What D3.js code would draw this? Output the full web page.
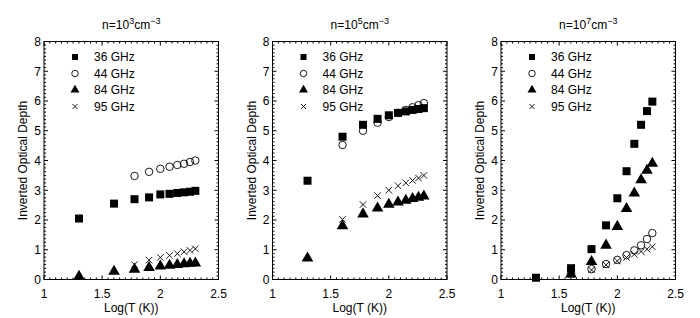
<!DOCTYPE html>
<head>
  <meta charset="utf-8">
  <script src="https://d3js.org/d3.v7.min.js"></script>
  <style>
    body { margin:0; background:#fff; }
    text { font-family: 'Liberation Sans', Arial, sans-serif; fill:#000; }
    .tick-label { font-size: 12px; }
    .axis-label { font-size: 12px; }
    .legend-label { font-size: 12px; }
    .title { font-size: 12px; }
    .frame { fill:none; stroke:#000; stroke-width:1; }
    .minor { stroke:#000; stroke-width:1; }
  </style>
</head>
<body>
<script>
  // log10 of temperature 20..200 K
  var logT = [1.301, 1.602, 1.778, 1.903, 2.0, 2.079, 2.146, 2.204, 2.255, 2.301];
  var freqs = ["36 GHz", "44 GHz", "84 GHz", "95 GHz"];
  var densities = ["3", "5", "7"];   // exponent of n in the panel titles
  var xTicks = [1, 1.5, 2, 2.5];
  var yTicks = [0, 1, 2, 3, 4, 5, 6, 7, 8];

  // n = 1e3 cm^-3
  var n3_36 = [2.05, 2.55, 2.70, 2.76, 2.86, 2.88, 2.91, 2.93, 2.95, 2.98];
  var n3_44 = [null, null, 3.48, 3.62, 3.72, 3.79, 3.85, 3.89, 3.95, 4.0];
  var n3_84 = [0.1, 0.27, 0.34, 0.4, 0.45, 0.47, 0.5, 0.52, 0.54, 0.55];
  var n3_95 = [null, null, 0.5, 0.65, 0.74, 0.81, 0.87, 0.93, 0.98, 1.03];

  // n = 1e5 cm^-3
  var n5_36 = [3.32, 4.8, 5.2, 5.4, 5.52, 5.6, 5.65, 5.7, 5.73, 5.76];
  var n5_44 = [null, 4.52, 5.0, 5.27, 5.46, 5.6, 5.7, 5.79, 5.86, 5.93];
  var n5_84 = [0.72, 1.8, 2.2, 2.4, 2.52, 2.6, 2.66, 2.72, 2.76, 2.8];
  var n5_95 = [null, 2.02, 2.52, 2.82, 3.0, 3.15, 3.25, 3.33, 3.41, 3.5];

  // n = 1e7 cm^-3
  var n7_36 = [0.06, 0.38, 1.02, 1.82, 2.73, 3.64, 4.56, 5.2, 5.66, 5.98];
  var n7_44 = [null, 0.2, 0.35, 0.52, 0.66, 0.82, 0.98, 1.15, 1.36, 1.56];
  var n7_84 = [null, 0.18, 0.6, 1.15, 1.78, 2.38, 2.9, 3.35, 3.67, 3.9];
  var n7_95 = [null, 0.16, 0.32, 0.49, 0.62, 0.74, 0.85, 0.94, 1.02, 1.1];

  var panels = [
    [n3_36, n3_44, n3_84, n3_95],
    [n5_36, n5_44, n5_84, n5_95],
    [n7_36, n7_44, n7_84, n7_95]
  ];

  var W = 700, H = 318;
  var plotW = 174.5, plotTop = 41.5, plotBottom = 279.5, step = 228.5, firstLeft = 44;

  var svg = d3.select("body").append("svg")
    .attr("width", W)
    .attr("height", H);

  var x = d3.scaleLinear().domain([1, 2.5]).range([0, plotW]);
  var y = d3.scaleLinear().domain([0, 8]).range([plotBottom, plotTop]);

  // marker drawers: filled square, open circle, filled triangle, cross
  function drawMarker(g, k, size) {
    if (k === 0) {
      g.append("rect").attr("x", -size / 2).attr("y", -size / 2)
        .attr("width", size).attr("height", size).attr("fill", "#000");
    } else if (k === 1) {
      g.append("circle").attr("r", size / 2).attr("fill", "none")
        .attr("stroke", "#000").attr("stroke-width", 0.9);
    } else if (k === 2) {
      g.append("path").attr("d", d3.symbol(d3.symbolTriangle, size * size * 0.48)()).attr("fill", "#000");
    } else {
      var h = size / 2;
      g.append("path").attr("d", "M" + -h + "," + -h + "L" + h + "," + h + "M" + -h + "," + h + "L" + h + "," + -h)
        .attr("stroke", "#000").attr("stroke-width", 0.9).attr("fill", "none");
    }
  }
  var dataSize = [8, 7.5, 11, 6.5];
  var legendSize = [6, 6.5, 8.5, 5];

  panels.forEach(function(series, p) {
    var g = svg.append("g")
      .attr("transform", "translate(" + (firstLeft + p * step) + ",0)");

    // minor ticks on all four sides
    var xMinor = d3.range(1, 2.5001, 0.05);
    var yMinor = d3.range(0, 8.0001, 0.125);
    xMinor.forEach(function(v) {
      var len = xTicks.some(function(t) { return Math.abs(t - v) < 1e-6; }) ? 4 : 2;
      g.append("line").attr("class", "minor").attr("x1", x(v)).attr("x2", x(v))
        .attr("y1", plotBottom).attr("y2", plotBottom - len);
      g.append("line").attr("class", "minor").attr("x1", x(v)).attr("x2", x(v))
        .attr("y1", plotTop).attr("y2", plotTop + len);
    });
    yMinor.forEach(function(v) {
      var len = Math.abs(v - Math.round(v)) < 1e-6 ? 4 : 2;
      g.append("line").attr("class", "minor").attr("x1", 0).attr("x2", len)
        .attr("y1", y(v)).attr("y2", y(v));
      g.append("line").attr("class", "minor").attr("x1", plotW).attr("x2", plotW - len)
        .attr("y1", y(v)).attr("y2", y(v));
    });

    g.append("rect").attr("class", "frame")
      .attr("x", 0).attr("y", plotTop)
      .attr("width", plotW).attr("height", plotBottom - plotTop);

    // tick labels
    g.selectAll(".xt").data(xTicks).enter().append("text")
      .attr("class", "tick-label")
      .attr("x", d => x(d)).attr("y", plotBottom + 18)
      .attr("text-anchor", "middle")
      .text(d => d);
    g.selectAll(".yt").data(yTicks).enter().append("text")
      .attr("class", "tick-label")
      .attr("x", -3).attr("y", d => y(d) + 4.3)
      .attr("text-anchor", "end")
      .text(d => d);

    // axis labels
    g.append("text").attr("class", "axis-label")
      .attr("x", plotW / 2).attr("y", plotBottom + 32)
      .attr("text-anchor", "middle")
      .text("Log(T (K))");
    g.append("text").attr("class", "axis-label")
      .attr("transform", "translate(-17," + ((plotTop + plotBottom) / 2) + ") rotate(-90)")
      .attr("text-anchor", "middle")
      .text("Inverted Optical Depth");

    // title n=10^k cm^-3
    var t = g.append("text").attr("class", "title")
      .attr("x", plotW / 2).attr("y", 29)
      .attr("text-anchor", "middle");
    t.append("tspan").text("n=10");
    t.append("tspan").attr("dy", -5).attr("font-size", "9px").text(densities[p]);
    t.append("tspan").attr("dy", 5).text("cm");
    t.append("tspan").attr("dy", -5).attr("font-size", "9px").text("\u22123");

    // data markers
    series.forEach(function(vals, k) {
      var pts = vals.map(function(v, i) { return {x: logT[i], y: v}; })
        .filter(function(d) { return d.y !== null; });
      g.append("g").selectAll("g").data(pts).enter().append("g")
        .attr("transform", d => "translate(" + x(d.x) + "," + y(d.y) + ")")
        .each(function() { drawMarker(d3.select(this), k, dataSize[k]); });
    });

    // legend
    freqs.forEach(function(f, k) {
      var ly = 57 + k * 16.5;
      var lg = g.append("g").attr("transform", "translate(31," + ly + ")");
      drawMarker(lg, k, legendSize[k]);
      g.append("text").attr("class", "legend-label")
        .attr("x", 50).attr("y", ly + 4.3)
        .text(f);
    });
  });
</script>
</body>
